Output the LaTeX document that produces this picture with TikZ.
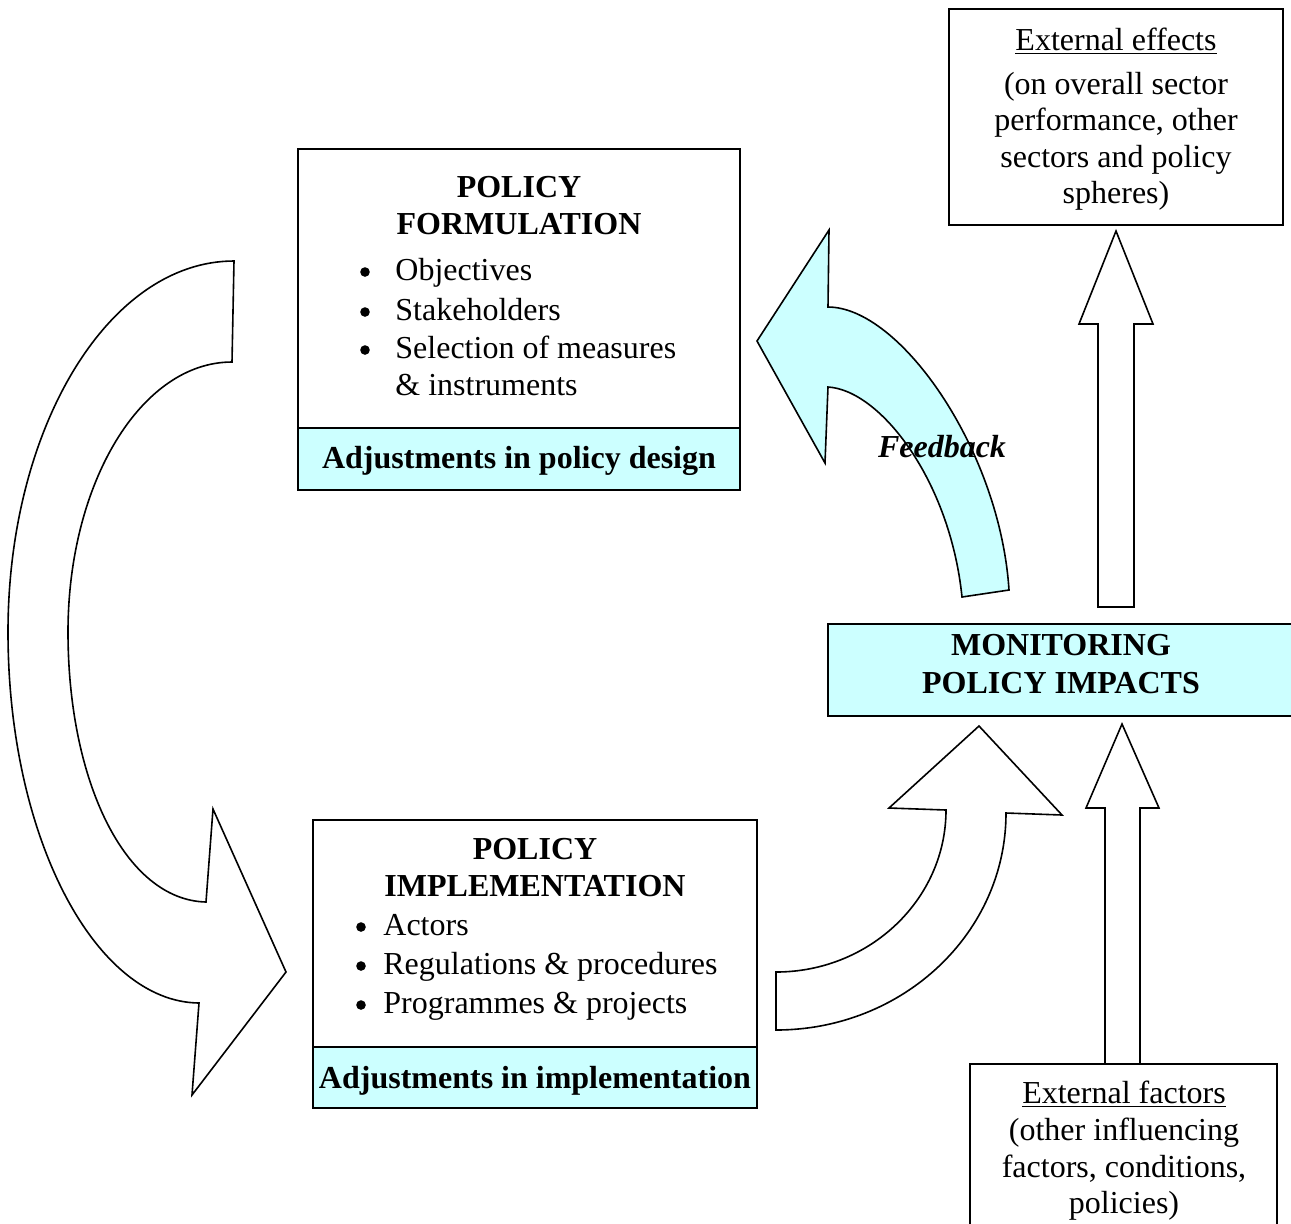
\documentclass[tikz,border=0pt]{standalone}
\usepackage{fontspec}
\setmainfont{Liberation Serif}
\definecolor{paleCyan}{HTML}{CCFFFF}
\begin{document}
\begin{tikzpicture}[x=0.5pt,y=-0.5pt,line join=miter,
  frame/.style={draw=black,line width=0.9pt,fill=white},
  band/.style={draw=black,line width=0.9pt,fill=paleCyan},
  blockarrow/.style={draw=black,line width=0.8pt,fill=white},
  txt/.style={font=\fontsize{16}{18.5}\selectfont,inner sep=0pt,anchor=base},
  btxt/.style={font=\fontsize{16}{18.5}\selectfont\bfseries,inner sep=0pt,anchor=base},
  item/.style={txt,anchor=base west},
  dot/.style={circle,fill=black,inner sep=0pt,minimum size=4.8pt}]
\useasboundingbox (0,0) rectangle (1291,1223);

% cycle arrow from formulation down to implementation
\draw[blockarrow] (234,261) .. controls (109,261) and (8,427) .. (8,632)
  .. controls (8,837) and (95,1002) .. (199,1003)
  -- (192,1095) -- (286,972) -- (213,809) -- (206,902)
  .. controls (125,900) and (68,781) .. (68,632)
  .. controls (68,483) and (141,362) .. (232,362) -- cycle;

% implementation feeding the monitoring
\draw[blockarrow] (776,1030) .. controls (903,1030) and (1006,933) .. (1006,813)
  -- (1062,815) -- (979,726) -- (889,808) -- (946,810)
  .. controls (946,899) and (870,972) .. (776,972) -- cycle;

% feedback arrow
\draw[blockarrow,fill=paleCyan] (1009,590) .. controls (1000,450) and (900,307) .. (828,307)
  -- (829,230) -- (757,341) -- (825,463) -- (828,387)
  .. controls (880,390) and (950,480) .. (962,597) -- cycle;
\node[btxt,font=\fontsize{16}{18.5}\selectfont\bfseries\itshape] (fb) at (942,457) {Feedback};

% straight arrows
\draw[blockarrow] (1098,607) -- (1098,324) -- (1079,324) -- (1116,231)
  -- (1153,324) -- (1134,324) -- (1134,607) -- cycle;
\draw[blockarrow] (1105,1064) -- (1105,808) -- (1086,808) -- (1122,724)
  -- (1159,808) -- (1140,808) -- (1140,1064);

% policy formulation
\draw[frame] (298,149) rectangle (740,490);
\draw[band] (298,428) rectangle (740,490);
\node[btxt] (pf1) at (519,197) {POLICY};
\node[btxt] (pf2) at (519,234) {FORMULATION};
\node[dot] (pfb1) at (365,272) {};
\node[dot] (pfb2) at (365,312) {};
\node[dot] (pfb3) at (365,350) {};
\node[item] (pfi1) at (395,280) {Objectives};
\node[item] (pfi2) at (395,320) {Stakeholders};
\node[item] (pfi3) at (395,358) {Selection of measures};
\node[item] (pfi4) at (395,395) {\& instruments};
\node[btxt] (pfa) at (519,468) {Adjustments in policy design};

% policy implementation
\draw[frame] (313,820) rectangle (757,1108);
\draw[band] (313,1047) rectangle (757,1108);
\node[btxt] (pi1) at (535,859) {POLICY};
\node[btxt] (pi2) at (535,896) {IMPLEMENTATION};
\node[dot] (pib1) at (361,927) {};
\node[dot] (pib2) at (361,966) {};
\node[dot] (pib3) at (361,1005) {};
\node[item] (pii1) at (383,935) {Actors};
\node[item] (pii2) at (383,974) {Regulations \& procedures};
\node[item] (pii3) at (383,1013) {Programmes \& projects};
\node[btxt] (pia) at (535,1088) {Adjustments in implementation};

% monitoring
\draw[band] (828,624) rectangle (1300,716);
\node[btxt] (m1) at (1061,655) {MONITORING};
\node[btxt] (m2) at (1061,693) {POLICY IMPACTS};

% external effects
\draw[frame] (949,9) rectangle (1283,225);
\node[txt] (ee1) at (1116,50) {\underline{External effects}};
\node[txt] (ee2) at (1116,94) {(on overall sector};
\node[txt] (ee3) at (1116,130) {performance, other};
\node[txt] (ee4) at (1116,167) {sectors and policy};
\node[txt] (ee5) at (1116,203) {spheres)};

% external factors
\draw[frame] (970,1064) rectangle (1277,1240);
\node[txt] (ef1) at (1124,1103) {\underline{External factors}};
\node[txt] (ef2) at (1124,1140) {(other influencing};
\node[txt] (ef3) at (1124,1177) {factors, conditions,};
\node[txt] (ef4) at (1124,1213) {policies)};
\end{tikzpicture}
\end{document}
